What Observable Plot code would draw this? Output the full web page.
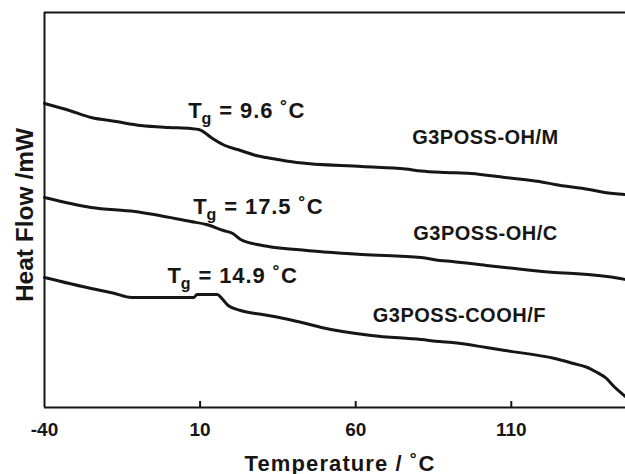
<!DOCTYPE html>
<html>
<head>
<meta charset="utf-8">
<script src="https://cdn.jsdelivr.net/npm/d3@7"></script>
<script src="https://cdn.jsdelivr.net/npm/@observablehq/plot@0.6"></script>
<style>
  html, body { margin: 0; padding: 0; background: #fff; }
  #chart { width: 625px; height: 474px; overflow: hidden; }
</style>
</head>
<body>
<div id="chart"></div>
<script>
// ---- data (temperature in °C, heat flow in arbitrary mW units) ----
const seriesNames = ["G3POSS-OH/M", "G3POSS-OH/C", "G3POSS-COOH/F"];

const tempM = [-40, -32, -25, -17, -9, 0, 7, 9.6, 14, 18, 23, 28, 33, 41, 62, 76, 81, 89, 97, 108, 119, 124, 135, 140, 146.7];
const flowM = [3.04, 2.97, 2.90, 2.86, 2.82, 2.80, 2.79, 2.78, 2.69, 2.62, 2.57, 2.52, 2.49, 2.45, 2.41, 2.385, 2.365, 2.35, 2.34, 2.30, 2.26, 2.23, 2.18, 2.15, 2.13];

const tempC = [-40, -25, -11, 7, 12, 17.5, 20.5, 23, 30, 41, 62, 81, 87, 91, 102, 108, 124, 130, 145, 146.7];
const flowC = [2.10, 2.00, 1.96, 1.86, 1.83, 1.77, 1.74, 1.68, 1.62, 1.58, 1.53, 1.50, 1.47, 1.46, 1.42, 1.40, 1.35, 1.34, 1.29, 1.28];

const tempF = [-40, -25, -18, -12, 8, 9, 15.5, 17, 19, 23, 30, 37, 44, 49, 65, 81, 87, 91, 102, 108, 124, 130, 134.5, 137, 140.6, 143, 146.7];
const flowF = [1.30, 1.19, 1.145, 1.10, 1.10, 1.13, 1.13, 1.09, 1.02, 0.97, 0.93, 0.89, 0.84, 0.80, 0.72, 0.68, 0.66, 0.65, 0.60, 0.57, 0.49, 0.44, 0.40, 0.36, 0.29, 0.21, 0.11];

const xTicks = [-40, 10, 60, 110];
const xDomain = [-40, 146.7];
const yDomain = [0, 3.95];

// Tg annotations
const tgValues = ["9.6", "17.5", "14.9"];
const tgX = [6.2, 7.8, -0.5];
const tgY = [2.90, 1.94, 1.25];

// series name labels
const nameX = [101.7, 101.7, 93.3];
const nameY = [2.64, 1.68, 0.86];

const xLabel = "Temperature / ˚C";
const yLabel = "Heat Flow /mW";

// ---- build tables ----
const rows = [];
[[tempM, flowM], [tempC, flowC], [tempF, flowF]].forEach(([t, f], k) => {
  t.forEach((x, i) => rows.push({series: seriesNames[k], t: x, f: f[i]}));
});
const tgRows = tgValues.map((v, i) => ({text: `Tg = ${v} ˚C`, x: tgX[i], y: tgY[i]}));
const nameRows = seriesNames.map((n, i) => ({text: n, x: nameX[i], y: nameY[i]}));

const font = "'Liberation Sans', Arial, Helvetica, sans-serif";
const ink = "#161616";

const chart = Plot.plot({
  width: 625,
  height: 474,
  marginTop: 12,
  marginRight: 0,
  marginBottom: 67,
  marginLeft: 44,
  style: {fontFamily: font, background: "#fff", color: ink, overflow: "visible"},
  x: {domain: xDomain, axis: null},
  y: {domain: yDomain, axis: null},
  marks: [
    // frame
    Plot.ruleY([yDomain[1]], {stroke: ink, strokeWidth: 2}),
    Plot.ruleY([yDomain[0]], {stroke: ink, strokeWidth: 2}),
    Plot.ruleX([xDomain[0]], {stroke: ink, strokeWidth: 2}),
    // inward ticks
    Plot.ruleX(xTicks.slice(1), {y1: yDomain[0], y2: yDomain[0], insetTop: -6, stroke: ink, strokeWidth: 2}),
    // tick labels
    Plot.text(xTicks, {x: d => d, y: yDomain[0], text: d => String(d), dy: 28, lineAnchor: "bottom",
      fontSize: 19, fontWeight: "bold", fill: ink}),
    // curves
    Plot.line(rows, {x: "t", y: "f", z: "series", stroke: ink, strokeWidth: 3, strokeLinejoin: "round", curve: "monotone-x"}),
    // Tg labels
    Plot.text(tgRows, {x: "x", y: "y", text: "text", textAnchor: "start", lineAnchor: "bottom",
      fontSize: 22, fontWeight: "bold", fill: ink}),
    // series names
    Plot.text(nameRows, {x: "x", y: "y", text: "text", textAnchor: "middle", lineAnchor: "bottom",
      fontSize: 20, fontWeight: "bold", fill: ink}),
    // axis titles
    Plot.text([xLabel], {frameAnchor: "bottom", text: d => d, dx: 5, dy: 63, lineAnchor: "bottom",
      fontSize: 22, fontWeight: "bold", fill: ink}),
    Plot.text([yLabel], {frameAnchor: "left", text: d => d, dx: -12, dy: 5, rotate: -90, textAnchor: "middle",
      lineAnchor: "bottom", fontSize: 24.5, fontWeight: "bold", fill: ink})
  ]
});

// subscript g in "Tg", and a little extra tracking to match the wide lettering
const ns = "http://www.w3.org/2000/svg";
chart.querySelectorAll("text").forEach(t => {
  const s = t.textContent;
  if (s.startsWith("Tg ")) {
    const rest = s.slice(2);
    t.textContent = "";
    t.setAttribute("letter-spacing", "0.9");
    const a = document.createElementNS(ns, "tspan"); a.textContent = "T";
    const b = document.createElementNS(ns, "tspan"); b.textContent = "g";
    b.setAttribute("font-size", "16"); b.setAttribute("dy", "6"); b.setAttribute("dx", "-1");
    const c = document.createElementNS(ns, "tspan"); c.textContent = rest; c.setAttribute("dy", "-6");
    t.append(a, b, c);
  } else if (s === xLabel) {
    t.setAttribute("letter-spacing", "1.1");
  } else if (seriesNames.includes(s)) {
    t.setAttribute("letter-spacing", "0.5");
  }
});

document.getElementById("chart").appendChild(chart);
</script>
</body>
</html>
